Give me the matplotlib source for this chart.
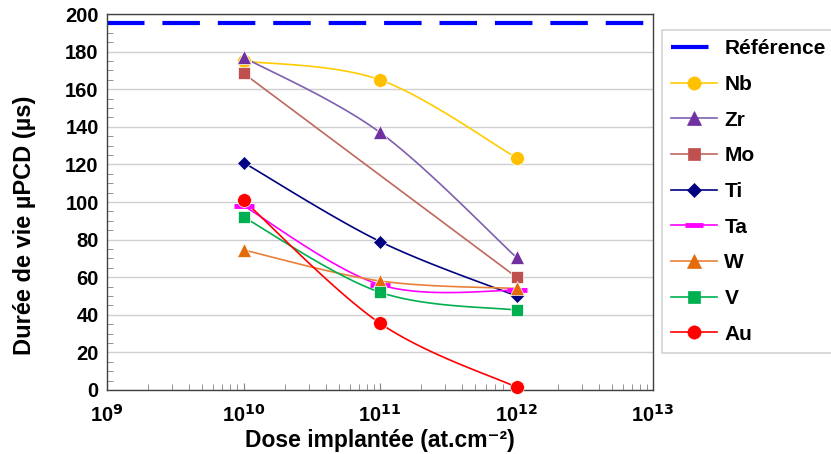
import numpy as np
import matplotlib.pyplot as plt
from matplotlib.ticker import MultipleLocator, LogLocator, FixedLocator

plt.rcParams['font.family'] = ['Liberation Sans', 'DejaVu Sans']
plt.rcParams['font.weight'] = 'bold'

# data
dose = [1e10, 1e11, 1e12]
ref_value = 195
nb = [175, 165, 123.5]
zr = [177, 137, 70.5]
mo_dose = [1e10, 1e12]
mo = [168.5, 60]
ti = [121, 79, 50]
ta = [98, 56, 53]
w = [74.5, 58, 54]
v = [92, 52, 42.5]
au = [101, 35.5, 1.5]


def smooth(xs, ys, n=40):
    # excel-like smoothed line (bezier through points, in screen-ish units)
    px = np.log10(xs) * 136.5
    py = np.array(ys, dtype=float) * 1.88
    if len(px) < 3:
        return np.array(xs), np.array(ys)
    pts = np.column_stack([px, py])
    out = []
    for i in range(len(pts) - 1):
        p0 = pts[i - 1] if i > 0 else pts[i]
        p1 = pts[i]
        p2 = pts[i + 1]
        p3 = pts[i + 2] if i + 2 < len(pts) else pts[i + 1]
        c1 = p1 + (p2 - p0) / 6
        c2 = p2 - (p3 - p1) / 6
        t = np.linspace(0, 1, n)[:, None]
        seg = (1 - t)**3 * p1 + 3 * (1 - t)**2 * t * c1 + 3 * (1 - t) * t**2 * c2 + t**3 * p2
        out.append(seg if i == 0 else seg[1:])
    out = np.vstack(out)
    return 10 ** (out[:, 0] / 136.5), out[:, 1] / 1.88


fig = plt.figure(figsize=(8.31, 4.54), dpi=100)
ax = fig.add_axes([0.1288, 0.141, 0.6570, 0.828])

series = [
    ('Nb', dose, nb, '#FFCC00', '#FFC000', 'o', 10),
    ('Zr', dose, zr, '#7F5FAF', '#7030A0', '^', 10),
    ('Mo', mo_dose, mo, '#C0675F', '#C0504D', 's', 8.5),
    ('Ti', dose, ti, '#000080', '#000080', 'D', 7.5),
    ('Ta', dose, ta, '#FF00FF', '#FF00FF', '_', 14),
    ('W', dose, w, '#E9803A', '#E36C09', '^', 10),
    ('V', dose, v, '#00B050', '#00B050', 's', 8.5),
    ('Au', dose, au, '#FF0000', '#FF0000', 'o', 10),
]

ref_line, = ax.plot([1e9, 1.05e13], [ref_value, ref_value], color='#0000FF', lw=3,
                    dashes=(9, 4.3), clip_on=False, label='Référence')
handles = [ref_line]
for name, xs, ys, lc, mc, mk, ms in series:
    sx, sy = smooth(xs, ys)
    ax.plot(sx, sy, color=lc, lw=1.2, zorder=3)
    ax.plot(xs, ys, ls='none', marker=mk, color=mc, ms=ms, mew=3.5 if mk == '_' else 0.5,
            mec=mc if mk == '_' else 'white', zorder=4, clip_on=False)
    h, = ax.plot([], [], color=lc, lw=1.2, marker=mk, mfc=mc, mec=mc, ms=ms * 0.95,
                 mew=3.5 if mk == '_' else 0.5, label=name)
    handles.append(h)

ax.set_xscale('log')
ax.set_xlim(1e9, 1e13)
ax.set_ylim(0, 200)
ax.yaxis.set_major_locator(MultipleLocator(20))
ax.yaxis.set_minor_locator(MultipleLocator(5))
ax.xaxis.set_major_locator(FixedLocator([1e9, 1e10, 1e11, 1e12, 1e13]))
ax.xaxis.set_minor_locator(LogLocator(base=10, subs=np.arange(2, 10)))
ax.set_xticklabels(['10$^{9}$', '10$^{10}$', '10$^{11}$', '10$^{12}$', '10$^{13}$'])
ax.tick_params(axis='both', which='both', direction='in', labelsize=14.5, color='#808080')
ax.tick_params(axis='both', which='major', length=0, pad=6)
ax.tick_params(axis='both', which='minor', length=4)
ax.tick_params(axis='x', which='major', length=5, pad=10)
ax.grid(axis='y', which='major', color='#D0D0D0', lw=1)
ax.set_axisbelow(True)
for s in ax.spines.values():
    s.set_color('#404040')
    s.set_linewidth(1)

ax.set_xlabel('Dose implantée (at.cm⁻²)', fontsize=16.5, fontweight='bold', labelpad=2)
ax.set_ylabel('Durée de vie µPCD (µs)', fontsize=17, fontweight='bold')
ax.yaxis.set_label_coords(-0.130, 0.439)

leg = fig.legend(handles=handles, loc='upper left', bbox_to_anchor=(0.7966, 0.934),
                 borderaxespad=0, frameon=True, fancybox=False, fontsize=15,
                 handlelength=2.2, labelspacing=0.8, borderpad=0.45, handletextpad=0.35)
leg.get_frame().set_edgecolor('#C8C8C8')
leg.get_frame().set_linewidth(1.2)

fig.savefig('out.png', dpi=100)
